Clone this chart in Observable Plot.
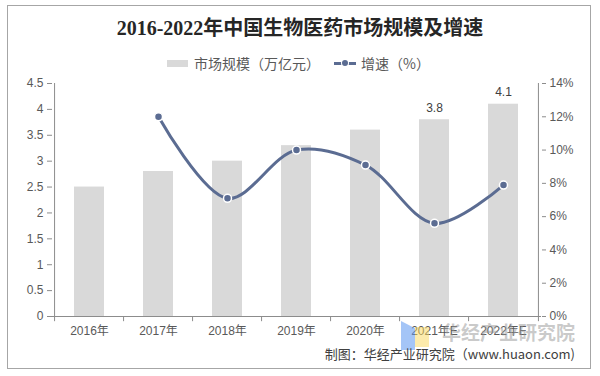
<!DOCTYPE html>
<html><head><meta charset="utf-8">
<script src="https://cdn.jsdelivr.net/npm/d3@7"></script>
<script src="https://cdn.jsdelivr.net/npm/@observablehq/plot@0.6"></script>
<style>
body{margin:0;background:#fff;}
#wrap{position:relative;width:600px;height:376px;overflow:hidden;font-family:"Liberation Sans","Noto Sans CJK SC",sans-serif;}
#border{position:absolute;left:7px;top:5px;width:584px;height:364px;border:1px solid #a6a6a6;box-sizing:border-box;}
#title{position:absolute;left:0;width:600px;top:14px;text-align:center;font-weight:bold;font-size:20px;font-family:"Liberation Serif","Noto Sans CJK SC",serif;color:#262626;line-height:28px;}
#legend{position:absolute;top:54px;left:0;width:600px;height:18px;font-size:14px;color:#595959;font-family:"Noto Sans CJK SC",sans-serif;}
.sw{position:absolute;}
#chart{position:absolute;left:0;top:70px;}
#caption{position:absolute;right:25px;top:346px;font-size:13px;color:#404040;font-family:"Noto Sans CJK SC","Liberation Sans",sans-serif;line-height:16px;}
#wm{position:absolute;left:442px;top:319px;font-size:19px;font-weight:bold;color:rgba(150,150,150,0.5);font-family:"Noto Sans CJK SC",sans-serif;line-height:26px;}
#logo1{position:absolute;left:401px;top:321px;width:14px;height:29px;background:rgba(90,150,240,0.55);clip-path:polygon(0 0,100% 25%,100% 100%,0 100%);}
#logo2{position:absolute;left:415px;top:327px;width:14px;height:20px;background:rgba(250,215,90,0.5);}
</style></head>
<body>
<div id="wrap">
  <div id="border"></div>
  <div id="title">2016-2022年中国生物医药市场规模及增速</div>
  <div id="legend"></div>
  <div id="chart"></div>
  <div id="logo1"></div><div id="logo2"></div>
  <div id="wm">华经产业研究院</div>
  <div id="caption">制图：华经产业研究院（www.huaon.com)</div>
</div>
<script>
// ---- data ----
const years = ["2016年","2017年","2018年","2019年","2020年","2021年E","2022年E"];
const marketSize = [2.5, 2.8, 3.0, 3.3, 3.6, 3.8, 4.1];           // 万亿元
const growthRate = [null, 12.0, 7.1, 10.0, 9.1, 5.6, 7.9];        // %
const barLabels = ["", "", "", "", "", "3.8", "4.1"];
const leftTicks = [0, 0.5, 1, 1.5, 2, 2.5, 3, 3.5, 4, 4.5];
const rightTicks = [0, 2, 4, 6, 8, 10, 12, 14];                   // %
const seriesNames = ["市场规模（万亿元）", "增速（%）"];

const leftMax = 4.5, rightMax = 14;
const toLeft = p => p * leftMax / rightMax;

const barColor = "#d9d9d9";
const lineColor = "#5b6c92";
const textColor = "#595959";

const rows = years.map((y, i) => ({year: y, size: marketSize[i], growth: growthRate[i], label: barLabels[i]}));
const lineRows = rows.filter(d => d.growth != null);

const W = 600, H = 280, mL = 52, mR = 59, mT = 13, mB = 34;
const step = (W - mL - mR) / years.length;

const plot = Plot.plot({
  width: W, height: H,
  marginLeft: mL, marginRight: mR, marginTop: mT, marginBottom: mB,
  style: {fontFamily: "'Liberation Sans', 'Noto Sans CJK SC', sans-serif", fontSize: "12px", color: textColor, background: "transparent"},
  x: {domain: years, paddingInner: 0.56, paddingOuter: 0.28, label: null},
  y: {domain: [0, leftMax], label: null},
  marks: [
    Plot.barY(rows, {x: "year", y: "size", fill: barColor}),
    // axis lines
    Plot.ruleY([0], {stroke: "#8c8c8c"}),
    Plot.ruleX([years[0]], {dx: -step / 2, y1: 0, y2: leftMax, stroke: "#8c8c8c"}),
    Plot.ruleX([years[years.length - 1]], {dx: step / 2, y1: 0, y2: leftMax, stroke: "#8c8c8c"}),
    // x tick marks at category boundaries
    Plot.ruleX(years, {dx: -step / 2, y1: 0, y2: -0.1, stroke: "#8c8c8c"}),
    Plot.ruleX([years[years.length - 1]], {dx: step / 2, y1: 0, y2: -0.1, stroke: "#8c8c8c"}),
    Plot.axisX({tickSize: 0, tickPadding: 10, fill: textColor, fontSize: 12}),
    Plot.axisY({anchor: "left", ticks: leftTicks, tickFormat: d => String(d), tickSize: 5, tickPadding: 4, stroke: "#8c8c8c", fill: textColor, fontSize: 12}),
    Plot.axisY({anchor: "right", ticks: rightTicks.map(toLeft), tickFormat: d => Math.round(d * rightMax / leftMax) + "%", tickSize: 4, tickPadding: 4, stroke: "#8c8c8c", fill: textColor, fontSize: 12}),
    Plot.line(lineRows, {x: "year", y: d => toLeft(d.growth), stroke: lineColor, strokeWidth: 3, curve: "catmull-rom"}),
    Plot.dot(lineRows, {x: "year", y: d => toLeft(d.growth), r: 4, fill: lineColor, stroke: "#fff", strokeWidth: 1.5}),
    Plot.text(rows.filter(d => d.label), {x: "year", y: "size", text: "label", dy: -12, fill: "#404040", fontSize: 12})
  ]
});
document.getElementById("chart").appendChild(plot);

// legend (HTML)
const lg = document.getElementById("legend");
lg.innerHTML =
  `<div class="sw" style="left:167px;top:6px;width:21px;height:7px;background:${barColor}"></div>` +
  `<div class="sw" style="left:194px;top:0;line-height:18px;">${seriesNames[0]}</div>` +
  `<div class="sw" style="left:334px;top:8px;width:22px;height:3px;background:${lineColor}"></div>` +
  `<div class="sw" style="left:342px;top:6px;width:6px;height:6px;border-radius:50%;background:${lineColor};box-shadow:0 0 0 1px #fff"></div>` +
  `<div class="sw" style="left:361px;top:0;line-height:18px;">${seriesNames[1]}</div>`;
</script>
</body></html>
